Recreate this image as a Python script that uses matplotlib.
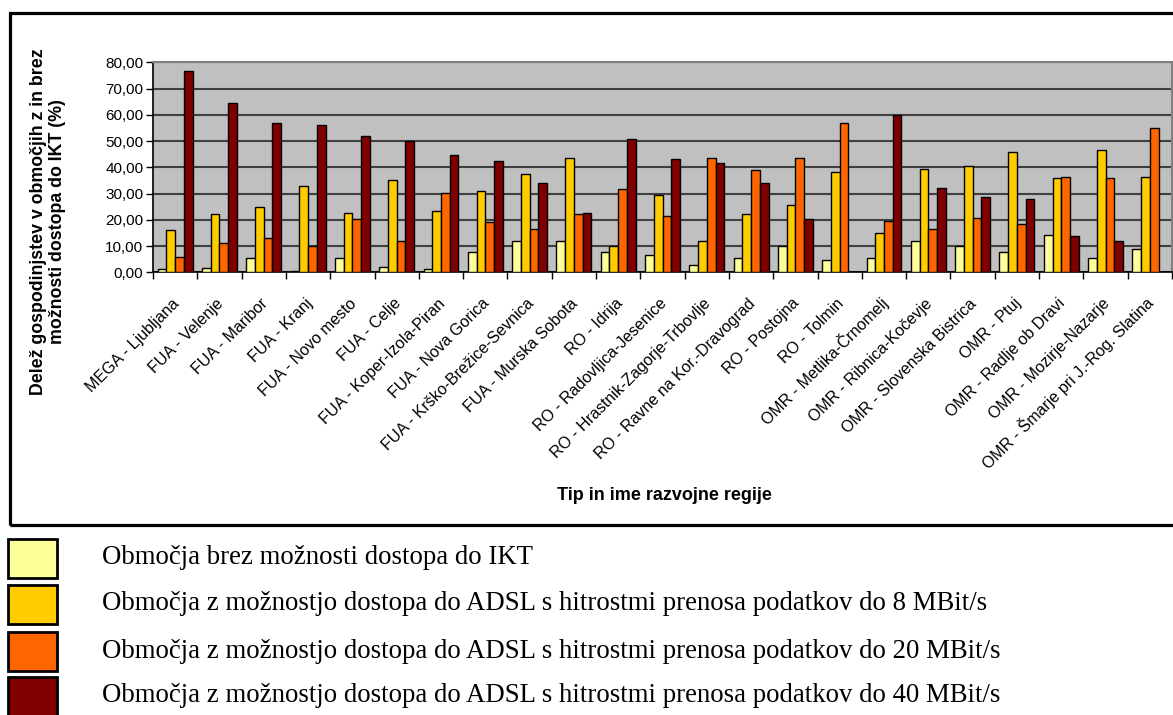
import matplotlib
matplotlib.use('Agg')
import matplotlib.pyplot as plt
import numpy as np
from matplotlib.patches import Rectangle
from matplotlib.ticker import MultipleLocator, FixedLocator, FuncFormatter
from matplotlib.transforms import offset_copy

regions = ["MEGA - Ljubljana", "FUA - Velenje", "FUA - Maribor", "FUA - Kranj",
           "FUA - Novo mesto", "FUA - Celje", "FUA - Koper-Izola-Piran",
           "FUA - Nova Gorica", "FUA - Krško-Brežice-Sevnica", "FUA - Murska Sobota",
           "RO - Idrija", "RO - Radovljica-Jesenice", "RO - Hrastnik-Zagorje-Trbovlje",
           "RO - Ravne na Kor.-Dravograd", "RO - Postojna", "RO - Tolmin",
           "OMR - Metlika-Črnomelj", "OMR - Ribnica-Kočevje", "OMR - Slovenska Bistrica",
           "OMR - Ptuj", "OMR - Radlje ob Dravi", "OMR - Mozirje-Nazarje",
           "OMR - Šmarje pri J.-Rog. Slatina"]

brez = [1.1, 1.8, 5.3, 0.6, 5.3, 2.2, 1.1, 7.7, 11.9, 11.9, 7.7, 6.5, 2.9, 5.3,
        10.1, 4.7, 5.3, 11.9, 10.1, 7.7, 14.3, 5.3, 8.9]
adsl8 = [16.0, 22.1, 25.0, 32.9, 22.7, 35.2, 23.2, 31.0, 37.6, 43.7, 10.1, 29.3, 11.9, 22.1,
         25.6, 38.2, 14.8, 39.3, 40.6, 45.9, 35.8, 46.6, 36.4]
adsl20 = [5.8, 11.3, 13.1, 10.1, 20.3, 11.9, 30.3, 19.0, 16.6, 22.1, 31.6, 21.4, 43.7, 38.8,
          43.7, 56.8, 19.7, 16.6, 20.8, 18.4, 36.4, 35.8, 55.0]
adsl40 = [76.6, 64.6, 56.8, 56.0, 51.9, 50.1, 44.8, 42.4, 34.0, 22.6, 50.8, 43.0, 41.8, 34.0,
          20.3, 0.0, 59.8, 32.3, 28.7, 28.0, 13.7, 11.9, 0.0]

series = [brez, adsl8, adsl20, adsl40]
colors = ['#FFFF99', '#FFCC00', '#FF6600', '#800000']
legend_labels = ["Območja brez možnosti dostopa do IKT",
                 "Območja z možnostjo dostopa do ADSL s hitrostmi prenosa podatkov do 8 MBit/s",
                 "Območja z možnostjo dostopa do ADSL s hitrostmi prenosa podatkov do 20 MBit/s",
                 "Območja z možnostjo dostopa do ADSL s hitrostmi prenosa podatkov do 40 MBit/s"]

plt.rcParams['font.family'] = ['Liberation Sans', 'DejaVu Sans']

W, H = 1173, 715
fig = plt.figure(figsize=(W / 100, H / 100), dpi=100)

# outer chart frame
fig.patches.append(Rectangle((10 / W, 1 - 525 / H), 1.1, (525 - 13) / H,
                             transform=fig.transFigure, fill=False, ec='black', lw=2.3))

ax = fig.add_axes([153 / W, 1 - 272.3 / H, (1172 - 153) / W, (272.3 - 62.3) / H])
ax.set_facecolor('#C0C0C0')

x = np.arange(len(regions))
w = 0.197
for k, vals in enumerate(series):
    ax.bar(x + (k - 1.5) * w, vals, width=w, color=colors[k], edgecolor='black',
           linewidth=1.0, zorder=3)

ax.set_xlim(-0.5, len(regions) - 0.5)
ax.set_ylim(0, 80)

ax.yaxis.set_major_locator(MultipleLocator(10))
ax.yaxis.set_major_formatter(FuncFormatter(lambda v, p: ('%.2f' % v).replace('.', ',')))
ax.grid(axis='y', color='#404040', lw=1.5, zorder=1)

ax.xaxis.set_major_locator(FixedLocator(np.arange(-0.5, len(regions), 1.0)))
ax.xaxis.set_major_formatter(FuncFormatter(lambda v, p: ''))
ax.xaxis.set_minor_locator(FixedLocator(x))
ax.tick_params(axis='x', which='major', length=5, width=1, direction='out')
ax.tick_params(axis='x', which='minor', length=0)
ax.tick_params(axis='y', which='major', length=5, width=1, direction='out', labelsize=11, pad=2)

for s in ['top', 'right']:
    ax.spines[s].set_color('#808080')
    ax.spines[s].set_linewidth(1.5)
for s in ['left', 'bottom']:
    ax.spines[s].set_color('black')
    ax.spines[s].set_linewidth(1.2)

# rotated category labels, text end sits under the group centre
for i, name in enumerate(regions):
    tr = offset_copy(ax.get_xaxis_transform(), fig=fig, x=5 * 0.72, y=-32 * 0.72, units='points')
    ax.text(i, 0, name, transform=tr, rotation=45, rotation_mode='anchor',
            ha='right', va='baseline', fontsize=11.5)

fig.text(664 / W, 1 - 496 / H, "Tip in ime razvojne regije", ha='center', va='center',
         fontsize=13, fontweight='bold')
fig.text(48 / W, 1 - 222 / H,
         "Delež gospodinjstev v območjih z in brez\nmožnosti dostopa do IKT (%)",
         rotation=90, ha='center', va='center', multialignment='center',
         fontsize=12.8, fontweight='bold', linespacing=1.2)

# legend drawn below the frame
box_tops = [539, 585, 632, 677]
for k, lab in enumerate(legend_labels):
    top = box_tops[k]
    fig.patches.append(Rectangle((8 / W, 1 - (top + 39) / H), 49 / W, 39 / H,
                                 transform=fig.transFigure, fc=colors[k], ec='black', lw=2))
    fig.text(102 / W, 1 - (top + 19) / H, lab, ha='left', va='center',
             fontsize=19.3, family=['Liberation Serif', 'DejaVu Serif'])

fig.savefig('out.png', dpi=100)
